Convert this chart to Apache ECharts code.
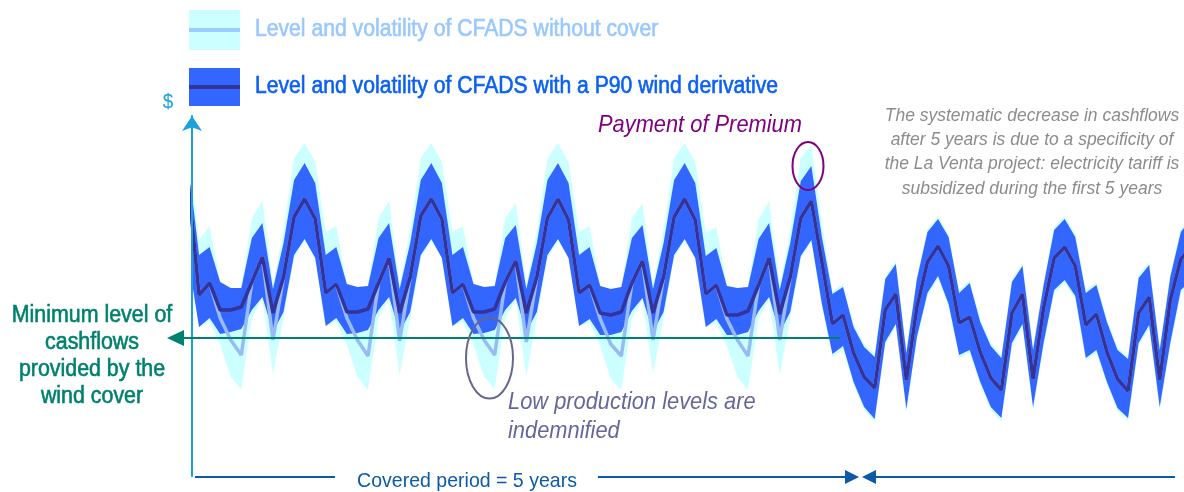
<!DOCTYPE html>
<html>
<head>
<meta charset="utf-8">
<script src="https://cdn.jsdelivr.net/npm/echarts@6/dist/echarts.min.js"></script>
<style>
html, body { margin: 0; padding: 0; background: #fff; }
#chart { width: 1184px; height: 492px; }
</style>
</head>
<body>
<div id="chart"></div>
<script>
// month index (x)
var months = [
  0, 1, 2, 3, 4, 5, 6, 7, 8, 9, 10, 11,
  12, 13, 14, 15, 16, 17, 18, 19, 20, 21, 22, 23,
  24, 25, 26, 27, 28, 29, 30, 31, 32, 33, 34, 35,
  36, 37, 38, 39, 40, 41, 42, 43, 44, 45, 46, 47,
  48, 49, 50, 51, 52, 53, 54, 55, 56, 57, 58, 59,
  60, 61, 62, 63, 64, 65, 66, 67, 68, 69, 70, 71,
  72, 73, 74, 75, 76, 77, 78, 79, 80, 81, 82, 83,
  84, 85, 86, 87, 88, 89, 90, 91, 92, 93, 94, 95
];
// CFADS with the P90 wind derivative
var coverMean = [
  291, 181, 193, 166, 166, 169, 194, 219, 163, 199, 259, 277,
  257, 183, 192, 164, 164, 167, 193, 218, 163, 199, 260, 277,
  257, 183, 192, 164, 164, 167, 194, 215, 163, 199, 258, 277,
  256, 183, 191, 163, 161, 164, 193, 215, 163, 199, 259, 277,
  256, 182, 191, 161, 161, 165, 191, 218, 162, 199, 258, 275,
  214, 152, 161, 123, 99, 88, 166, 182, 96, 169, 214, 230,
  210, 153, 159, 124, 98, 86, 163, 182, 97, 168, 218, 229,
  210, 151, 162, 124, 97, 85, 163, 179, 96, 176, 217, 229
];
var coverHigh = [
  310, 221, 229, 194, 188, 188, 238, 253, 187, 233, 296, 313,
  293, 221, 229, 192, 189, 190, 238, 253, 187, 233, 296, 313,
  293, 221, 229, 192, 189, 190, 238, 251, 187, 233, 296, 313,
  293, 221, 229, 190, 187, 189, 238, 251, 187, 233, 296, 313,
  293, 220, 228, 190, 188, 189, 237, 253, 186, 233, 295, 310,
  239, 182, 189, 149, 129, 119, 197, 212, 123, 197, 244, 257,
  239, 183, 193, 154, 130, 118, 194, 210, 126, 191, 246, 257,
  239, 183, 191, 154, 126, 117, 198, 211, 126, 199, 244, 257
];
var coverLow = [
  215, 149, 158, 142, 144, 147, 166, 179, 144, 164, 221, 237,
  218, 150, 158, 142, 143, 146, 166, 179, 144, 164, 221, 237,
  218, 150, 158, 142, 143, 146, 166, 178, 144, 164, 221, 237,
  218, 150, 157, 141, 141, 144, 165, 178, 144, 164, 221, 237,
  218, 149, 157, 141, 141, 144, 165, 179, 143, 164, 220, 236,
  172, 122, 130, 94, 69, 57, 134, 152, 67, 139, 183, 200,
  172, 121, 126, 94, 69, 58, 133, 152, 69, 133, 186, 196,
  180, 118, 126, 94, 68, 58, 133, 151, 69, 133, 186, 196
];
// CFADS without cover
var noCoverMean = [
  291, 181, 193, 158, 136, 121, 194, 219, 136, 199, 259, 277,
  257, 183, 192, 158, 136, 120, 193, 218, 135, 199, 260, 277,
  257, 183, 192, 158, 136, 121, 194, 215, 134, 199, 258, 277,
  256, 183, 191, 157, 132, 120, 193, 215, 136, 199, 259, 277,
  256, 182, 191, 157, 136, 120, 191, 218, 136, 199, 258, 275,
  214, 152, 161, 123, 99, 88, 166, 182, 96, 169, 214, 230,
  210, 153, 159, 124, 98, 86, 163, 182, 97, 168, 218, 229,
  210, 151, 162, 124, 97, 85, 163, 179, 96, 176, 217, 229
];
var noCoverHigh = [
  320, 236, 250, 194, 188, 188, 258, 275, 191, 246, 318, 333,
  314, 244, 250, 192, 189, 190, 258, 275, 191, 246, 318, 333,
  314, 244, 250, 192, 189, 190, 258, 273, 191, 246, 318, 333,
  314, 244, 250, 190, 187, 189, 258, 273, 191, 246, 318, 333,
  314, 243, 249, 190, 188, 189, 257, 275, 190, 246, 318, 331,
  254, 185, 192, 152, 132, 122, 200, 215, 126, 200, 247, 260,
  242, 186, 196, 157, 133, 121, 197, 213, 129, 194, 249, 260,
  242, 186, 194, 157, 129, 120, 201, 214, 129, 202, 247, 260
];
var noCoverLow = [
  215, 149, 154, 131, 99, 87, 158, 177, 102, 158, 218, 235,
  218, 150, 154, 131, 99, 86, 158, 177, 101, 158, 218, 235,
  218, 150, 154, 131, 99, 87, 158, 176, 100, 158, 218, 235,
  218, 150, 153, 130, 97, 86, 157, 176, 102, 158, 218, 235,
  218, 149, 153, 130, 99, 86, 157, 177, 101, 158, 218, 234,
  169, 119, 127, 91, 66, 54, 131, 149, 64, 136, 180, 197,
  169, 118, 123, 91, 66, 55, 130, 149, 66, 130, 183, 193,
  177, 115, 123, 91, 65, 55, 130, 148, 66, 130, 183, 193
];
var minLevel = 138;   // minimum cashflow guaranteed by the cover
var coverEnd = 61.7;  // month where the minimum level line stops

var FONT = '"Liberation Sans", Arial, sans-serif';

var chart = echarts.init(document.getElementById('chart'));

function pairs(vals) {
  return months.map(function (m, i) { return [m, vals[i]]; });
}

// volatility band drawn as one polygon through the axis scales
function band(name, low, high, color) {
  return {
    type: 'custom',
    name: name,
    clip: true,
    silent: true,
    data: [[months[0], low[0]]],
    renderItem: function (params, api) {
      var pts = [];
      for (var i = 0; i < months.length; i++) pts.push(api.coord([months[i], high[i]]));
      for (var j = months.length - 1; j >= 0; j--) pts.push(api.coord([months[j], low[j]]));
      return { type: 'polygon', shape: { points: pts }, style: { fill: color } };
    }
  };
}

var option = {
  animation: false,
  grid: { left: 192, right: 0, top: 116, bottom: 16 },
  xAxis: { type: 'value', min: 0.33, max: 94.3, show: false },
  yAxis: {
    type: 'value', min: 0, max: 360,
    axisLine: {
      show: true, onZero: false,
      symbol: ['none', 'arrow'], symbolSize: [15, 15],
      lineStyle: { color: '#1aa2dc', width: 2 }
    },
    axisTick: { show: false },
    axisLabel: { show: false },
    splitLine: { show: false },
    z: 10
  },
  series: [
    band('noCoverBand', noCoverLow, noCoverHigh, '#ccffff'),
    {
      name: 'noCover', type: 'line', data: pairs(noCoverMean),
      showSymbol: false, lineStyle: { color: '#99bbf5', width: 3.5 }
    },
    band('coverBand', coverLow, coverHigh, '#3366ff'),
    {
      name: 'cover', type: 'line', data: pairs(coverMean),
      showSymbol: false, lineStyle: { color: '#333399', width: 3.5 }
    }
  ]
};
chart.setOption(option);

var minY = chart.convertToPixel({ gridIndex: 0 }, [months[0], minLevel])[1];
var minEndX = chart.convertToPixel({ gridIndex: 0 }, [coverEnd, minLevel])[0];

// text squeezed horizontally to look like the narrow font of the original
function txt(x, y, text, font, color, align, sx, lh, heavy) {
  return {
    type: 'text', x: x, y: y, z: 20, scaleX: sx || 1,
    style: {
      text: text, font: font, fill: color,
      stroke: heavy ? color : null, lineWidth: heavy ? 0.6 : 0,
      textAlign: align || 'left', textVerticalAlign: 'middle',
      lineHeight: lh
    }
  };
}

var teal = '#00806f';
var navy = '#0a5aa8';

chart.setOption({
  graphic: [
    // legend
    { type: 'rect', shape: { x: 189, y: 10, width: 51, height: 40 }, style: { fill: '#ccffff' } },
    { type: 'line', shape: { x1: 189, y1: 30, x2: 240, y2: 30 }, style: { stroke: '#99ccff', lineWidth: 4 } },
    txt(255, 30, 'Level and volatility of CFADS without cover', '23.5px ' + FONT, '#99c8ff', 'left', 0.9, null, true),
    { type: 'rect', shape: { x: 189, y: 68, width: 51, height: 38 }, style: { fill: '#3366ff' } },
    { type: 'line', shape: { x1: 189, y1: 87, x2: 240, y2: 87 }, style: { stroke: '#333399', lineWidth: 4 } },
    txt(255, 87, 'Level and volatility of CFADS with a P90 wind derivative', '23.5px ' + FONT, '#0a60f5', 'left', 0.9, null, true),
    txt(168, 102, '$', '21px ' + FONT, '#1aa2dc', 'center', 0.9),

    // premium
    txt(598, 125, 'Payment of Premium', 'italic 24px ' + FONT, '#800080', 'left', 0.91),
    { type: 'ellipse', z: 20, shape: { cx: 808, cy: 166, rx: 15.5, ry: 24 }, style: { fill: null, stroke: '#800080', lineWidth: 2 } },

    // note on the subsidized tariff
    txt(1032, 152, 'The systematic decrease in cashflows\nafter 5 years is due to a specificity of\nthe La Venta project: electricity tariff is\nsubsidized during the first 5 years',
      'italic 19px ' + FONT, '#8c8c8c', 'center', 0.92, 24.3),

    // minimum level
    txt(92, 356, 'Minimum level of\ncashflows\nprovided by the\nwind cover', '23.5px ' + FONT, teal, 'center', 0.91, 26.7, true),
    { type: 'line', z: 15, shape: { x1: 180, y1: minY, x2: minEndX, y2: minY }, style: { stroke: teal, lineWidth: 2 } },
    { type: 'polygon', z: 15, shape: { points: [[167, minY], [184, minY - 8], [184, minY + 8]] }, style: { fill: teal } },

    // low production
    { type: 'ellipse', z: 20, shape: { cx: 489.5, cy: 358, rx: 23.5, ry: 40.5 }, style: { fill: null, stroke: '#66668f', lineWidth: 2 } },
    txt(508, 417, 'Low production levels are\nindemnified', 'italic 24px ' + FONT, '#66669a', 'left', 0.91, 29),

    // covered period
    { type: 'line', shape: { x1: 195, y1: 477, x2: 335, y2: 477 }, style: { stroke: navy, lineWidth: 2 } },
    txt(467, 481, 'Covered period = 5 years', '21px ' + FONT, navy, 'center', 0.93),
    { type: 'line', shape: { x1: 598, y1: 477, x2: 848, y2: 477 }, style: { stroke: navy, lineWidth: 2 } },
    { type: 'polygon', shape: { points: [[859, 477], [845, 470], [845, 484]] }, style: { fill: navy } },
    { type: 'polygon', shape: { points: [[862, 477], [876, 470], [876, 484]] }, style: { fill: navy } },
    { type: 'line', shape: { x1: 874, y1: 477, x2: 1175, y2: 477 }, style: { stroke: navy, lineWidth: 2 } }
  ]
});
</script>
</body>
</html>
